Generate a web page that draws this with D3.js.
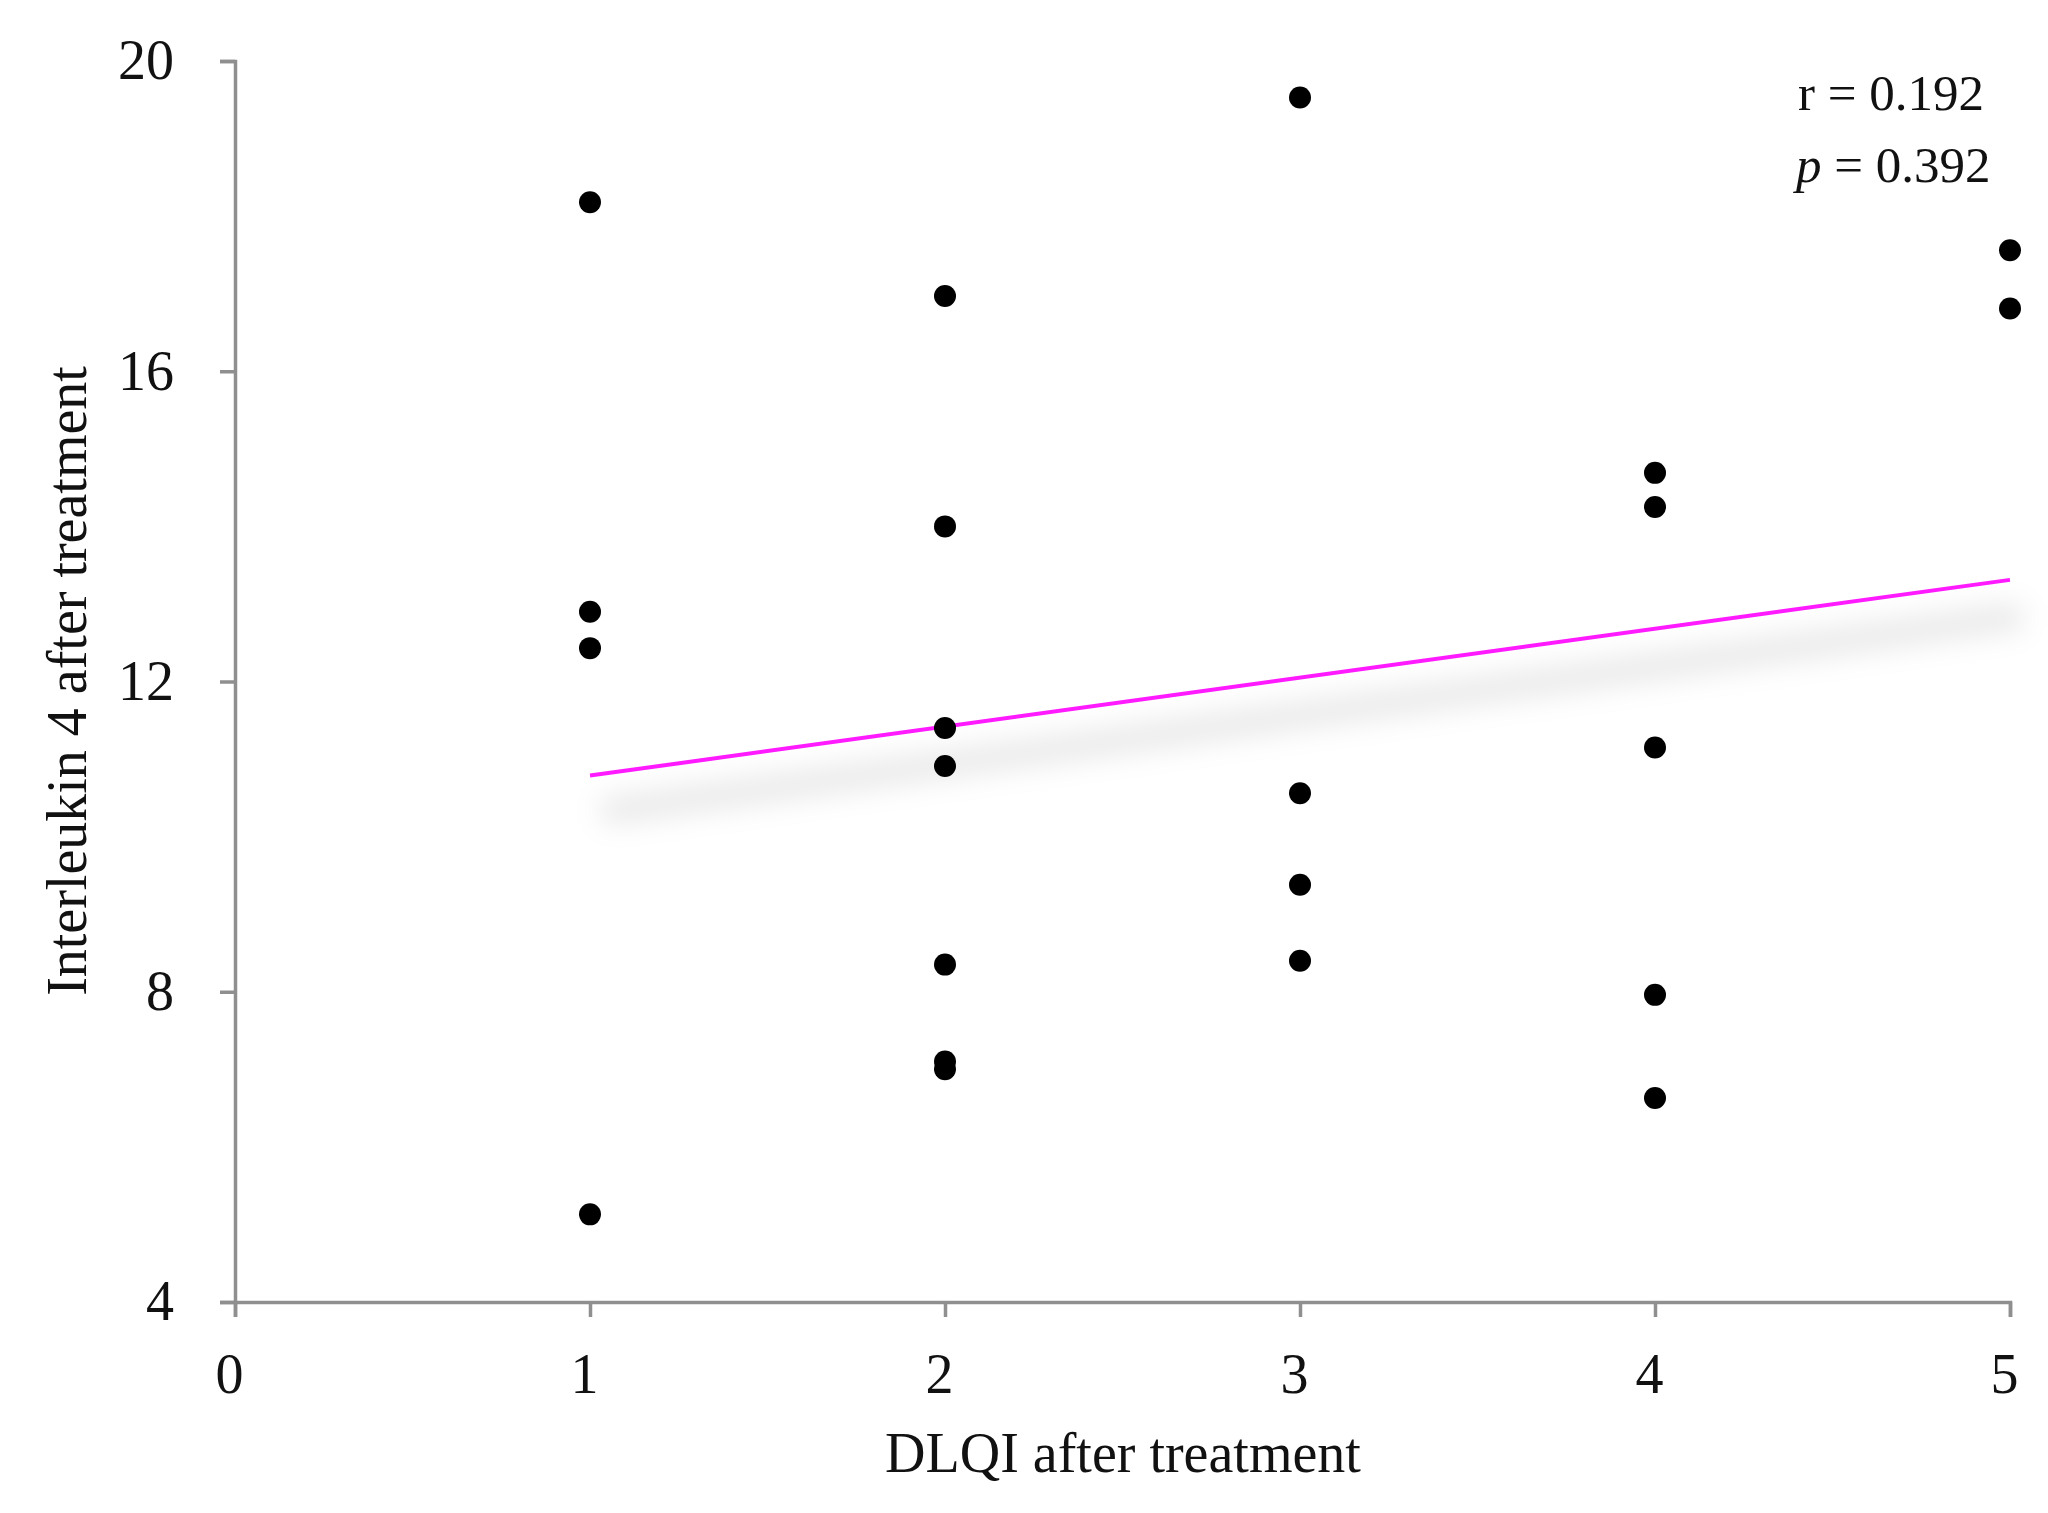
<!DOCTYPE html>
<html>
<head>
<meta charset="utf-8">
<script src="https://cdn.jsdelivr.net/npm/d3@7"></script>
<style>
  html, body { margin: 0; padding: 0; background: #fff; }
  text { font-family: "Liberation Serif", "DejaVu Serif", serif; fill: #111; }
</style>
</head>
<body>
<svg id="chart" width="2048" height="1513"></svg>
<script>
// DLQI after treatment (x) and Interleukin 4 after treatment (y)
const dlqi = [1, 1, 1, 1,
              2, 2, 2, 2, 2, 2, 2,
              3, 3, 3, 3,
              4, 4, 4, 4, 4,
              5, 5];
const il4  = [18.18, 12.90, 12.43, 5.13,
              16.97, 14.00, 11.40, 10.91, 8.35, 7.10, 7.00,
              19.53, 10.56, 9.38, 8.40,
              14.69, 14.25, 11.15, 7.96, 6.63,
              17.56, 16.81];
const xTicks = [0, 1, 2, 3, 4, 5];
const yTicks = [4, 8, 12, 16, 20];
const statLines = ["r = 0.192", "p = 0.392"];
const xTitle = "DLQI after treatment";
const yTitle = "Interleukin 4 after treatment";

const svg = d3.select("#chart");
const x = d3.scaleLinear().domain([0, 5]).range([235, 2010]);
const y = d3.scaleLinear().domain([4, 20]).range([1302, 61]);

const axisColor = "#8f8f8f";

// linear regression (least squares) computed from the points
const n = dlqi.length;
const mx = d3.mean(dlqi), my = d3.mean(il4);
let sxy = 0, sxx = 0;
for (let i = 0; i < n; i++) { sxy += (dlqi[i] - mx) * (il4[i] - my); sxx += (dlqi[i] - mx) ** 2; }
const slope = sxy / sxx, intercept = my - slope * mx;
const trendX = [d3.min(dlqi), d3.max(dlqi)];
const trend = trendX.map(v => ({x: v, y: intercept + slope * v}));

// shadow filter
const defs = svg.append("defs");
defs.append("filter").attr("id", "blur").attr("x", "-20%").attr("y", "-300%").attr("width", "140%").attr("height", "700%")
  .append("feGaussianBlur").attr("stdDeviation", 14);

// Axes
const fmt = d3.format("d");
const yAxis = d3.axisLeft(y).tickValues(yTicks).tickFormat(fmt).tickSize(15).tickPadding(46).tickSizeOuter(15);
const gy = svg.append("g").attr("transform", `translate(${x(0)},0)`).call(yAxis);
const xAxis = d3.axisBottom(x).tickValues(xTicks).tickFormat(fmt).tickSize(15).tickPadding(36).tickSizeOuter(15);
const gx = svg.append("g").attr("transform", `translate(0,${y(4)})`).call(xAxis);

[gx, gy].forEach(g => {
  g.selectAll("path.domain").attr("stroke", axisColor).attr("stroke-width", 3.5);
  g.selectAll(".tick line").attr("stroke", axisColor).attr("stroke-width", 3.5);
  g.selectAll(".tick text").style("font-family", '"Liberation Serif", serif').attr("font-size", 56).attr("fill", "#111");
});
gx.selectAll(".tick text").attr("dx", -6);

// Regression line shadow
const line = d3.line().x(d => x(d.x)).y(d => y(d.y));
svg.append("path").datum(trend)
  .attr("d", line)
  .attr("transform", "translate(12,36)")
  .attr("fill", "none").attr("stroke", "#000").attr("stroke-width", 26)
  .attr("stroke-opacity", 0.09)
  .attr("filter", "url(#blur)");

// Regression line
svg.append("path").datum(trend)
  .attr("d", line)
  .attr("fill", "none").attr("stroke", "#ff1aff").attr("stroke-width", 4);

// Points
svg.append("g").selectAll("circle")
  .data(dlqi.map((v, i) => ({x: v, y: il4[i]})))
  .join("circle")
  .attr("cx", d => x(d.x)).attr("cy", d => y(d.y)).attr("r", 11)
  .attr("fill", "#000");

// Stats annotation
const stats = svg.append("g").attr("font-size", 51);
const t1 = stats.append("text").attr("x", 1798).attr("y", 110);
t1.text(statLines[0]);
const t2 = stats.append("text").attr("x", 1796).attr("y", 182);
t2.append("tspan").attr("font-style", "italic").text(statLines[1].slice(0, 1));
t2.append("tspan").text(statLines[1].slice(1));

// Axis titles
svg.append("text").attr("x", 1123).attr("y", 1472).attr("text-anchor", "middle")
  .attr("font-size", 56).text(xTitle);
svg.append("text").attr("transform", "translate(86,681) rotate(-90)").attr("text-anchor", "middle")
  .attr("font-size", 56).text(yTitle);
</script>
</body>
</html>
